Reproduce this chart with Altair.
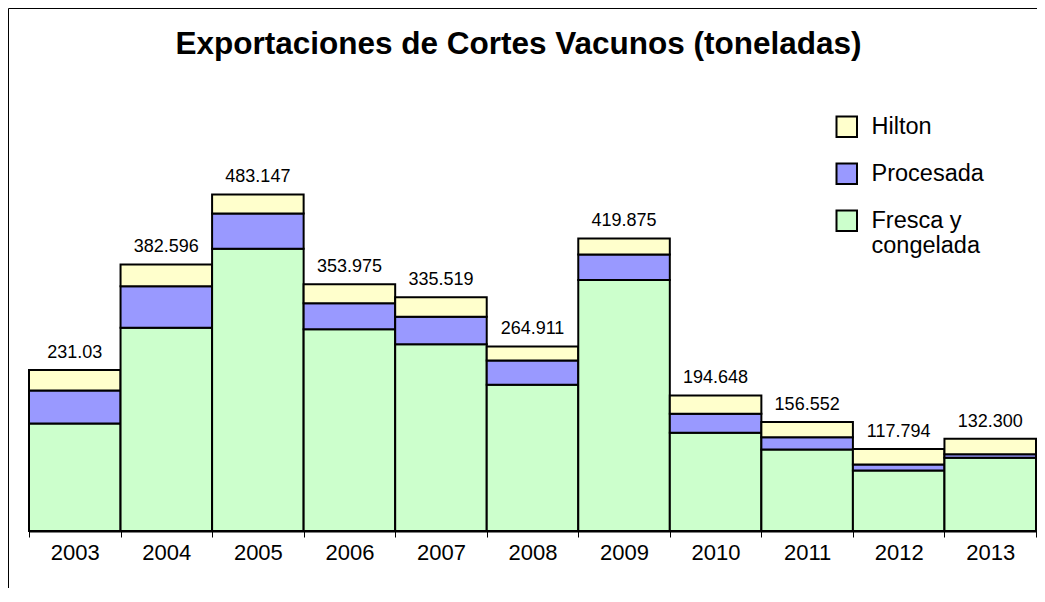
import altair as alt
import pandas as pd

# ---- data ----
years = ["2003", "2004", "2005", "2006", "2007", "2008", "2009", "2010", "2011", "2012", "2013"]
fresca = [154.3, 291.7, 405.2, 289.7, 268.2, 209.9, 360.1, 141.0, 117.0, 86.9, 105.1]
procesada = [47.4, 59.7, 50.3, 37.3, 39.3, 34.9, 36.9, 27.3, 17.7, 8.6, 5.2]
hilton = [29.3, 31.2, 27.6, 27.0, 28.0, 20.1, 22.9, 26.3, 21.9, 22.3, 22.0]
totals = [231.03, 382.596, 483.147, 353.975, 335.519, 264.911, 419.875, 194.648, 156.552, 117.794, 132.300]
total_labels = ["231.03", "382.596", "483.147", "353.975", "335.519", "264.911",
                "419.875", "194.648", "156.552", "117.794", "132.300"]
series = ["Hilton", "Procesada", "Fresca y congelada"]
colors = ["#FFFFCC", "#9999FF", "#CCFFCC"]
stack_order = {"Fresca y congelada": 0, "Procesada": 1, "Hilton": 2}

rows = []
for i, y in enumerate(years):
    for name, vals in (("Fresca y congelada", fresca), ("Procesada", procesada), ("Hilton", hilton)):
        rows.append({"anio": y, "tipo": name, "valor": vals[i], "orden": stack_order[name]})
df = pd.DataFrame(rows)
df_tot = pd.DataFrame({"anio": years, "total": totals, "etiqueta": total_labels})

FONT = "Liberation Sans"
W, H = 1007, 432

x_enc = alt.X(
    "anio:N",
    sort=years,
    scale=alt.Scale(paddingInner=0, paddingOuter=0),
    axis=alt.Axis(
        title=None, labelAngle=0, labelFontSize=22, labelFont=FONT, labelColor="black",
        tickBand="extent", tickSize=6, tickColor="black", tickWidth=1,
        domainColor="black", domainWidth=2, labelPadding=5, grid=False,
    ),
)
y_scale = alt.Scale(domain=[0, 620])

bars = alt.Chart(df).mark_bar(stroke="black", strokeWidth=2, opacity=1).encode(
    x=x_enc,
    y=alt.Y("valor:Q", stack="zero", scale=y_scale, axis=None),
    color=alt.Color(
        "tipo:N",
        scale=alt.Scale(domain=series, range=colors),
        legend=alt.Legend(
            title=None, orient="none", legendX=806, legendY=16, padding=0,
            symbolType="square", symbolSize=420, symbolStrokeColor="black",
            symbolStrokeWidth=2, symbolOpacity=1,
            labelFontSize=23.5, labelFont=FONT, labelColor="black", labelOffset=13,
            rowPadding=18, labelLimit=300,
            labelExpr="datum.label == 'Fresca y congelada' ? ['Fresca y', 'congelada'] : datum.label",
        ),
    ),
    order=alt.Order("orden:Q"),
)

labels = alt.Chart(df_tot).mark_text(
    fontSize=18, font=FONT, color="black", baseline="alphabetic", dy=-12
).encode(
    x=alt.X("anio:N", sort=years),
    y=alt.Y("total:Q", scale=y_scale, axis=None),
    text="etiqueta:N",
)

frame = alt.Chart(pd.DataFrame({"k": [0]})).mark_rect(
    filled=False, stroke="black", strokeWidth=1
).encode(
    x=alt.value(-20.5), x2=alt.value(1100), y=alt.value(-90.5), y2=alt.value(700)
)

chart = alt.layer(frame, bars, labels).properties(
    width=W,
    height=H,
    padding={"left": 21, "top": 91, "right": 1, "bottom": 57},
    autosize=alt.AutoSizeParams(type="none"),
    title=alt.TitleParams(
        "Exportaciones de Cortes Vacunos (toneladas)",
        fontSize=31.5, fontWeight="bold", font=FONT, color="black",
        anchor="middle", frame="group", baseline="alphabetic", offset=-77, dx=-14,
    ),
).configure_view(strokeWidth=0)

chart.save("out.html", embed_options={"renderer": "svg", "actions": False})
